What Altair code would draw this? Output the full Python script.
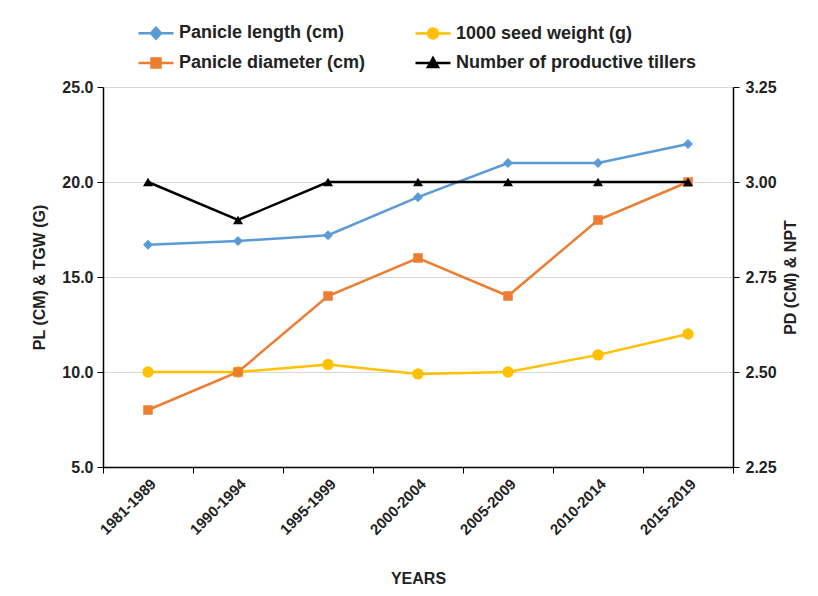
import altair as alt
import pandas as pd

years = ["1981-1989", "1990-1994", "1995-1999", "2000-2004",
         "2005-2009", "2010-2014", "2015-2019"]
panicle_length = [16.7, 16.9, 17.2, 19.2, 21.0, 21.0, 22.0]
seed_weight = [10.0, 10.0, 10.4, 9.9, 10.0, 10.9, 12.0]
panicle_diameter = [2.40, 2.50, 2.70, 2.80, 2.70, 2.90, 3.00]
productive_tillers = [3.0, 2.9, 3.0, 3.0, 3.0, 3.0, 3.0]

series_names = ["Panicle length (cm)", "1000 seed weight (g)",
                "Panicle diameter (cm)", "Number of productive tillers"]
colors = ["#5B9BD5", "#FFC000", "#ED7D31", "#000000"]
shapes = ["diamond", "circle", "square", "triangle-up"]
sizes = [100, 130, 90, 100]
legend_paths = [
    "M-3.5,0H3.5M0,-1.1L1.0,0L0,1.1L-1.0,0Z",
    "M-3.5,0H3.5M1.0,0A1.0,1.0,0,1,1,-1.0,0A1.0,1.0,0,1,1,1.0,0Z",
    "M-3.5,0H3.5M-0.9,-0.9H0.9V0.9H-0.9Z",
    "M-3.5,0H3.5M0,-1.0L1.0,0.8L-1.0,0.8Z",
]
# legend is filled column by column: order entries so rows read PL, TGW / PD, NPT
legend_order = [0, 2, 1, 3]

rows = []
for name, vals in zip(series_names,
                      [panicle_length, seed_weight, panicle_diameter, productive_tillers]):
    for y, v in zip(years, vals):
        rows.append({"year": y, "series": name, "value": v})
df = pd.DataFrame(rows)

FONT = "Liberation Sans"

X = alt.X("year:N", sort=years,
          scale=alt.Scale(type="band", paddingInner=0, paddingOuter=0),
          axis=alt.Axis(title="YEARS", labelAngle=-45, tickBand="extent",
                        domainColor="black", tickColor="black", tickSize=6,
                        domainWidth=1.5, labelFontSize=15, labelFontWeight="bold",
                        labelColor="#222", titleFontSize=16, titleFontWeight="bold",
                        titleColor="#222", labelPadding=3, titlePadding=33,
                        grid=False))

Y_left = alt.Y("value:Q",
               scale=alt.Scale(domain=[5, 25], nice=False, zero=False),
               axis=alt.Axis(title="PL (CM) & TGW (G)", values=[5, 10, 15, 20, 25],
                             format=".1f", grid=True, gridColor="#D9D9D9",
                             domainColor="black", tickColor="black", tickSize=6,
                             domainWidth=1.5, labelFontSize=16, labelFontWeight="bold",
                             labelColor="#222", titleFontSize=16, titleFontWeight="bold",
                             titleColor="#222", labelPadding=4, titlePadding=14))

Y_right = alt.Y("value:Q",
                scale=alt.Scale(domain=[2.25, 3.25], nice=False, zero=False),
                axis=alt.Axis(title="PD (CM) & NPT", orient="right",
                              values=[2.25, 2.5, 2.75, 3.0, 3.25],
                              format=".2f", grid=False,
                              domainColor="black", tickColor="black", tickSize=6,
                              domainWidth=1.5, labelFontSize=16, labelFontWeight="bold",
                              labelColor="#222", titleFontSize=16, titleFontWeight="bold",
                              titleColor="#222", labelPadding=6, titlePadding=22,
                              titleAngle=270))


def series_layers(idx, Y):
    name = series_names[idx]
    base = alt.Chart(df).transform_filter(alt.datum.series == name)
    line = base.mark_line(color=colors[idx], strokeWidth=2.5).encode(x=X, y=Y)
    pts = base.mark_point(filled=True, color=colors[idx], shape=shapes[idx],
                          size=sizes[idx], opacity=1).encode(x=X, y=Y)
    return [line, pts]


leg = alt.Legend(title=None, orient="none", legendX=44, legendY=-63, columns=2,
                 columnPadding=44, rowPadding=9, symbolSize=100,
                 symbolStrokeWidth=2.5, symbolOpacity=1, labelFontSize=18,
                 labelFontWeight="bold", labelFont=FONT, labelColor="#222",
                 labelOffset=14, labelLimit=500, padding=0)

leg_domain = [series_names[i] for i in legend_order]
leg_colors = [colors[i] for i in legend_order]
leg_paths = [legend_paths[i] for i in legend_order]

legend_layer = alt.Chart(df).transform_filter("false").mark_point(
    filled=True, opacity=1).encode(
    x=X, y=Y_right,
    fill=alt.Fill("series:N", scale=alt.Scale(domain=leg_domain, range=leg_colors), legend=leg),
    stroke=alt.Stroke("series:N", scale=alt.Scale(domain=leg_domain, range=leg_colors), legend=leg),
    shape=alt.Shape("series:N", scale=alt.Scale(domain=leg_domain, range=leg_paths), legend=leg),
)

left = alt.layer(*(series_layers(0, Y_left) + series_layers(1, Y_left)))
right = alt.layer(*(series_layers(2, Y_right) + series_layers(3, Y_right) + [legend_layer]))

chart = alt.layer(left, right).resolve_scale(y="independent").properties(
    width=630, height=380,
    autosize=alt.AutoSizeParams(type="none"),
    padding={"left": 103, "top": 87, "right": 85, "bottom": 129},
    background="white",
).configure(font=FONT).configure_view(stroke=None)

chart.save("out.html", embed_options={"renderer": "svg", "actions": False})
